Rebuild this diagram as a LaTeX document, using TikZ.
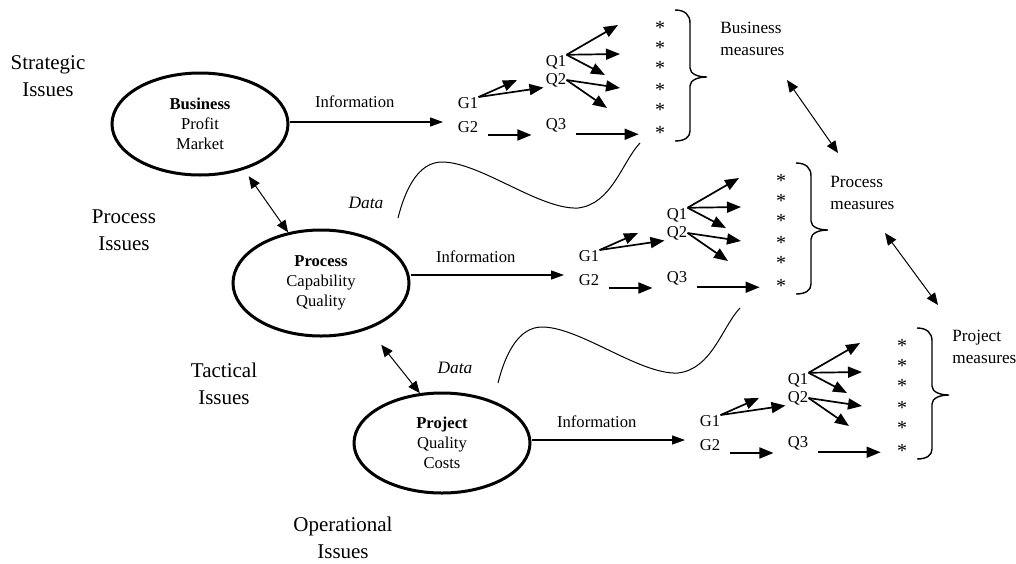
\documentclass[tikz,border=0pt]{standalone}
\usepackage{fontspec}
\setmainfont{Liberation Serif}
\usetikzlibrary{shapes.geometric,arrows.meta}
\tikzset{
  bigtxt/.style={inner sep=0pt, font=\fontsize{10.5}{13.5}\selectfont, align=center},
  eltxt/.style={draw, line width=1.5pt, ellipse, inner sep=0pt, minimum width=88pt, minimum height=51pt, font=\fontsize{8.3}{10}\selectfont, align=center},
  gqtext/.style={inner sep=0pt, font=\fontsize{8.3}{10}\selectfont},
  starn/.style={inner sep=0pt, font=\fontsize{10}{10}\selectfont, yshift=-1.5pt},
  blk/.style={-{Triangle[length=7pt,width=5.5pt]}, line width=0.85pt},
  info/.style={-{Triangle[length=6.5pt,width=4.5pt]}, line width=0.65pt},
  dbl/.style={{Triangle[length=6pt,width=5pt]}-{Triangle[length=6pt,width=5pt]}, line width=0.5pt},
  brc/.style={line width=0.7pt},
  wave/.style={line width=0.5pt},
  meas/.style={inner sep=0pt, font=\fontsize{8.6}{11}\selectfont, align=left, anchor=west},
  datal/.style={inner sep=0pt, font=\fontsize{8.7}{10}\selectfont\itshape},
  gq/.pic={
    \node[gqtext] (-g1) at (0,0) {G1};
    \node[gqtext] (-g2) at (0,24) {G2};
    \node[gqtext] (-q1) at (88,-41) {Q1};
    \node[gqtext] (-q2) at (88,-23) {Q2};
    \node[gqtext] (-q3) at (88,22) {Q3};
    \foreach \i/\yy in {1/-78,2/-58,3/-38,4/-16,5/4,6/27}{\node[starn] (-s\i) at (192,\yy) {*};}
    \coordinate (-in) at (-25,19);
    \coordinate (-t1) at (49,-23);
    \coordinate (-a1) at (150,-78);
    \coordinate (-a2) at (152,-49);
    \coordinate (-a3) at (137,-28);
    \coordinate (-b1) at (152,-15);
    \coordinate (-b2) at (139,5);
    \draw[blk] (-g1.north east) -- (-t1);
    \draw[blk, shorten >=1pt] (-g1.north east) -- (-q2.south west);
    \draw[blk] (-q1.north east) -- (-a1);
    \draw[blk] (-q1.north east) -- (-a2);
    \draw[blk] (-q1.north east) -- (-a3);
    \draw[blk] (-q2.east) -- (-b1);
    \draw[blk] (-q2.east) -- (-b2);
    \draw[blk, shorten <=4.5pt, shorten >=7pt] ([yshift=-1pt]-g2.south east) -- ([yshift=-1pt]-g2.south east -| -q3.west);
    \draw[blk, shorten <=4.5pt, shorten >=8pt] ([yshift=-1pt]-q3.south east) -- ([yshift=-1pt]-q3.south east -| -s6.west);
    \draw[brc] (207,-93) .. controls (217,-93) and (222,-88) .. (222,-80) -- (222,-35)
      .. controls (222,-29) and (230,-26) .. (239,-26)
      .. controls (230,-26) and (222,-23) .. (222,-17) -- (222,28)
      .. controls (222,34) and (217,38) .. (207,38);
  }
}
\begin{document}
\begin{tikzpicture}[x=0.5pt, y=-0.5pt]
\useasboundingbox (0,0) rectangle (1016,563);
% level labels
\node[bigtxt] (lstrat) at (48,76.5) {Strategic\\Issues};
\node[bigtxt] (lproc) at (124,230) {Process\\Issues};
\node[bigtxt] (ltact) at (224,384) {Tactical\\Issues};
\node[bigtxt] (loper) at (343,537.5) {Operational\\Issues};
% ellipses
\node[eltxt] (Business) at (200,124) {\textbf{Business}\\Profit\\Market};
\node[eltxt, minimum height=53pt] (Process) at (321,283) {\textbf{Process}\\Capability\\Quality};
\node[eltxt, minimum height=50pt] (Project) at (442,443) {\textbf{Project}\\Quality\\Costs};
% G/Q blocks
\pic (b1) at (468,103) {gq};
\pic (b2) at (589,256) {gq};
\pic (b3) at (710,421) {gq};
% information arrows
\draw[info] (Business.east |- b1-in) -- node[gqtext, pos=0.425, above=7pt] {Information} (b1-in);
\draw[info] (Process.east |- b2-in) -- node[gqtext, pos=0.425, above=6pt] {Information} (b2-in);
\draw[info] (Project.east |- b3-in) -- node[gqtext, pos=0.425, above=6pt] {Information} (b3-in);
% double arrows between levels
\draw[dbl, shorten <=4pt] (Business.-46) -- (Process.123);
\draw[dbl, shorten <=10pt] (Process.-44) -- (Project.114);
% measures
\node[meas] (bm) at (720,39) {Business\\measures};
\node[meas] (pm) at (830,192.5) {Process\\measures};
\node[meas] (jm) at (952,346.5) {Project\\measures};
\coordinate (bmA) at (787,80);
\coordinate (pmA) at (838,153);
\coordinate (pmB) at (885,233);
\coordinate (jmA) at (938,305);
\draw[dbl] (bmA) -- (pmA);
\draw[dbl] (pmB) -- (jmA);
% data
\node[datal] (d1) at (366,203) {Data};
\node[datal] (d2) at (455,368) {Data};
\draw[wave] (398,218) .. controls (405,190) and (418,162) .. (442,162)
  .. controls (480,162) and (540,210) .. (578,208)
  .. controls (612,204) and (622,162) .. (640,143);
\draw[wave] (498,383) .. controls (505,355) and (518,327) .. (542,327)
  .. controls (580,327) and (640,375) .. (678,373)
  .. controls (712,369) and (722,327) .. (740,308);
\end{tikzpicture}
\end{document}
